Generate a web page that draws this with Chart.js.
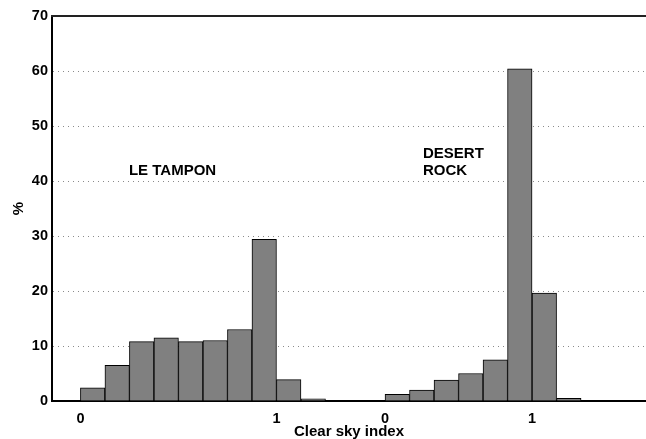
<!DOCTYPE html>
<html>
<head>
<meta charset="utf-8">
<script src="https://cdn.jsdelivr.net/npm/chart.js@4"></script>
<style>
	html, body { margin: 0; padding: 0; background: #fff; }
	#wrap { width: 646px; height: 439px; }
</style>
</head>
<body>
<div id="wrap"><canvas id="myChart" width="646" height="439"></canvas></div>
<script>
// x axis is in "bin" units (one histogram bin = 1)
var ltValues = [2.4, 6.5, 10.8, 11.5, 10.8, 11.0, 13.0, 29.4, 3.9, 0.4]; // LE TAMPON
var drValues = [1.2, 2.0, 3.8, 5.0, 7.5, 60.4, 19.6, 0.5];             // DESERT ROCK
var ltStart = 0;
var drStart = 12.43;
var tickPositions = [0, 8, 12.43, 18.43];
var tickLabels = ['0', '1', '0', '1'];
var yTicks = [0, 10, 20, 30, 40, 50, 60, 70];

var FONT = '"Liberation Sans", Arial, Helvetica, sans-serif';

function toPoints(values, start) {
	var pts = [];
	for (var i = 0; i < values.length; i++) {
		pts.push({ x: start + i + 0.5, y: values[i] });
	}
	return pts;
}

// top frame line + the two station labels
var extras = {
	id: 'extras',
	afterDraw: function(chart) {
		var ctx = chart.ctx;
		var a = chart.chartArea;
		var xs = chart.scales.x, ys = chart.scales.y;
		ctx.save();
		ctx.strokeStyle = '#222';
		ctx.lineWidth = 2;
		ctx.beginPath();
		ctx.moveTo(a.left - 1, a.top);
		ctx.lineTo(a.right, a.top);
		ctx.stroke();

		ctx.fillStyle = '#000';
		ctx.font = 'bold 15px ' + FONT;
		ctx.textBaseline = 'middle';
		ctx.textAlign = 'left';
		ctx.fillText('LE TAMPON', xs.getPixelForValue(1.98), ys.getPixelForValue(41.8));
		ctx.fillText('DESERT', xs.getPixelForValue(13.98), ys.getPixelForValue(44.9));
		ctx.fillText('ROCK', xs.getPixelForValue(13.98), ys.getPixelForValue(41.8));
		ctx.restore();
	}
};

var ctx = document.getElementById('myChart').getContext('2d');
var myChart = new Chart(ctx, {
	type: 'bar',
	data: {
		datasets: [{
			label: 'LE TAMPON',
			data: toPoints(ltValues, ltStart),
			stack: 'a',
			backgroundColor: '#808080',
			borderColor: '#000',
			borderWidth: 1,
			barPercentage: 1,
			categoryPercentage: 1
		}, {
			label: 'DESERT ROCK',
			data: toPoints(drValues, drStart),
			stack: 'a',
			backgroundColor: '#808080',
			borderColor: '#000',
			borderWidth: 1,
			barPercentage: 1,
			categoryPercentage: 1
		}]
	},
	options: {
		responsive: false,
		animation: false,
		devicePixelRatio: 1,
		layout: { padding: { top: 16, right: 0, left: 0, bottom: 0 } },
		plugins: {
			legend: { display: false },
			tooltip: { enabled: false }
		},
		scales: {
			x: {
				type: 'linear',
				stacked: true,
				offset: false,
				min: -1.16,
				max: 23.08,
				afterBuildTicks: function(scale) {
					scale.ticks = tickPositions.map(function(v) { return { value: v }; });
				},
				afterFit: function(scale) { scale.height = 38; },
				ticks: {
					autoSkip: false,
					maxRotation: 0,
					padding: 9,
					color: '#000',
					font: { family: FONT, size: 14.5, weight: 'bold' },
					callback: function(value, index) { return tickLabels[index]; }
				},
				grid: { display: false, drawTicks: false, offset: false },
				border: { display: true, color: '#000', width: 2 },
				title: {
					display: true,
					text: 'Clear sky index',
					color: '#000',
					font: { family: FONT, size: 15, weight: 'bold', lineHeight: 1 },
					padding: { top: 0, bottom: 0 }
				}
			},
			y: {
				stacked: true,
				min: 0,
				max: 70,
				afterBuildTicks: function(scale) {
					scale.ticks = yTicks.map(function(v) { return { value: v }; });
				},
				afterFit: function(scale) { scale.width = 52; },
				ticks: {
					padding: 4,
					color: '#000',
					font: { family: FONT, size: 14.5, weight: 'bold' }
				},
				grid: {
					drawTicks: false,
					lineWidth: 1,
					color: function(c) {
						if (!c.tick || c.tick.value === 0 || c.tick.value === 70) return 'rgba(0,0,0,0)';
						return '#8a8a8a';
					}
				},
				border: { display: true, color: '#000', width: 2, dash: [1, 4] },
				title: {
					display: true,
					text: '%',
					color: '#000',
					font: { family: FONT, size: 15, weight: 'bold' },
					padding: { top: 10, bottom: 0 }
				}
			}
		}
	},
	plugins: [extras]
});
</script>
</body>
</html>
